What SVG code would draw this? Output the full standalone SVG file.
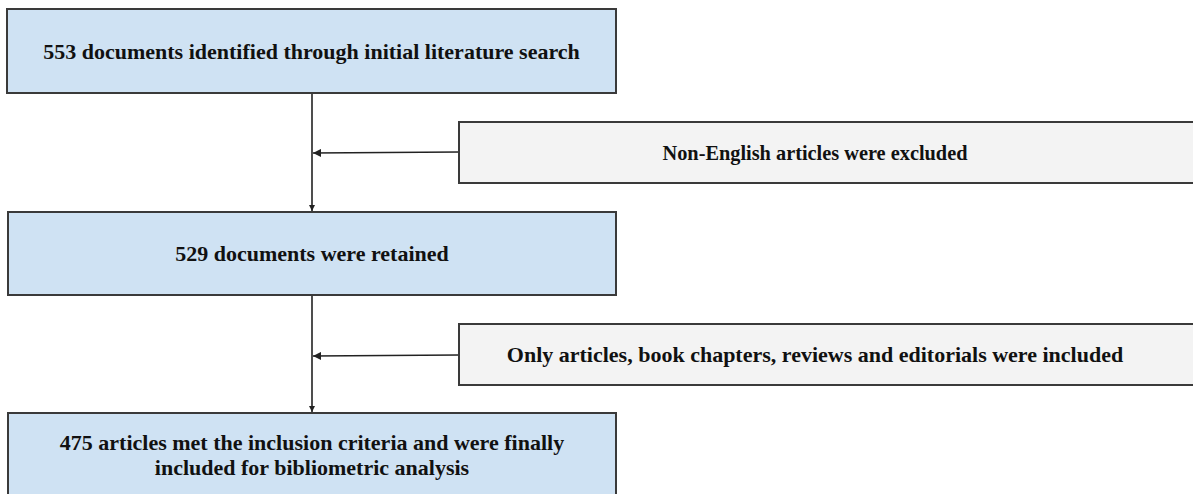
<svg xmlns="http://www.w3.org/2000/svg" width="1193" height="494" viewBox="0 0 1193 494">
<style>
.main{fill:#cfe2f3;stroke:#3a3a3a;stroke-width:2}
.excl{fill:#f3f3f3;stroke:#3a3a3a;stroke-width:2}
.t{font-family:"Liberation Serif","Times New Roman",serif;font-weight:bold;font-size:22px;fill:#111;text-anchor:middle}
.c{stroke:#222;stroke-width:1.6;fill:none}
</style>
<defs>
<marker id="ah" viewBox="0 0 10 10" refX="10" refY="5" markerWidth="6" markerHeight="6" markerUnits="userSpaceOnUse" orient="auto">
<path d="M0,0 L10,5 L0,10 z" fill="#222"/>
</marker>
<marker id="ah2" viewBox="0 0 10 10" refX="10" refY="5" markerWidth="10" markerHeight="8" markerUnits="userSpaceOnUse" orient="auto">
<path d="M0,0 L10,5 L0,10 z" fill="#222"/>
</marker>
</defs>
<g id="connectors">
<line class="c" x1="312" y1="93" x2="312" y2="211" marker-end="url(#ah)"/>
<line class="c" x1="459" y1="152" x2="313" y2="153" marker-end="url(#ah2)"/>
<line class="c" x1="312" y1="295" x2="312" y2="412" marker-end="url(#ah)"/>
<line class="c" x1="459" y1="355" x2="313" y2="356" marker-end="url(#ah2)"/>
</g>
<g id="n1">
<rect class="main" x="7" y="9" width="609" height="84"/>
<text class="t" x="311.5" y="59">553 documents identified through initial literature search</text>
</g>
<g id="e1">
<rect class="excl" x="459" y="122" width="760" height="61"/>
<text class="t" x="815" y="160" textLength="305" lengthAdjust="spacingAndGlyphs">Non-English articles were excluded</text>
</g>
<g id="n2">
<rect class="main" x="8" y="212" width="608" height="83"/>
<text class="t" x="312" y="261">529 documents were retained</text>
</g>
<g id="e2">
<rect class="excl" x="459" y="324" width="760" height="61"/>
<text class="t" x="815" y="362">Only articles, book chapters, reviews and editorials were included</text>
</g>
<g id="n3">
<rect class="main" x="8" y="413" width="608" height="100"/>
<text class="t" x="312" y="450">475 articles met the inclusion criteria and were finally</text>
<text class="t" x="312" y="475">included for bibliometric analysis</text>
</g>
</svg>
